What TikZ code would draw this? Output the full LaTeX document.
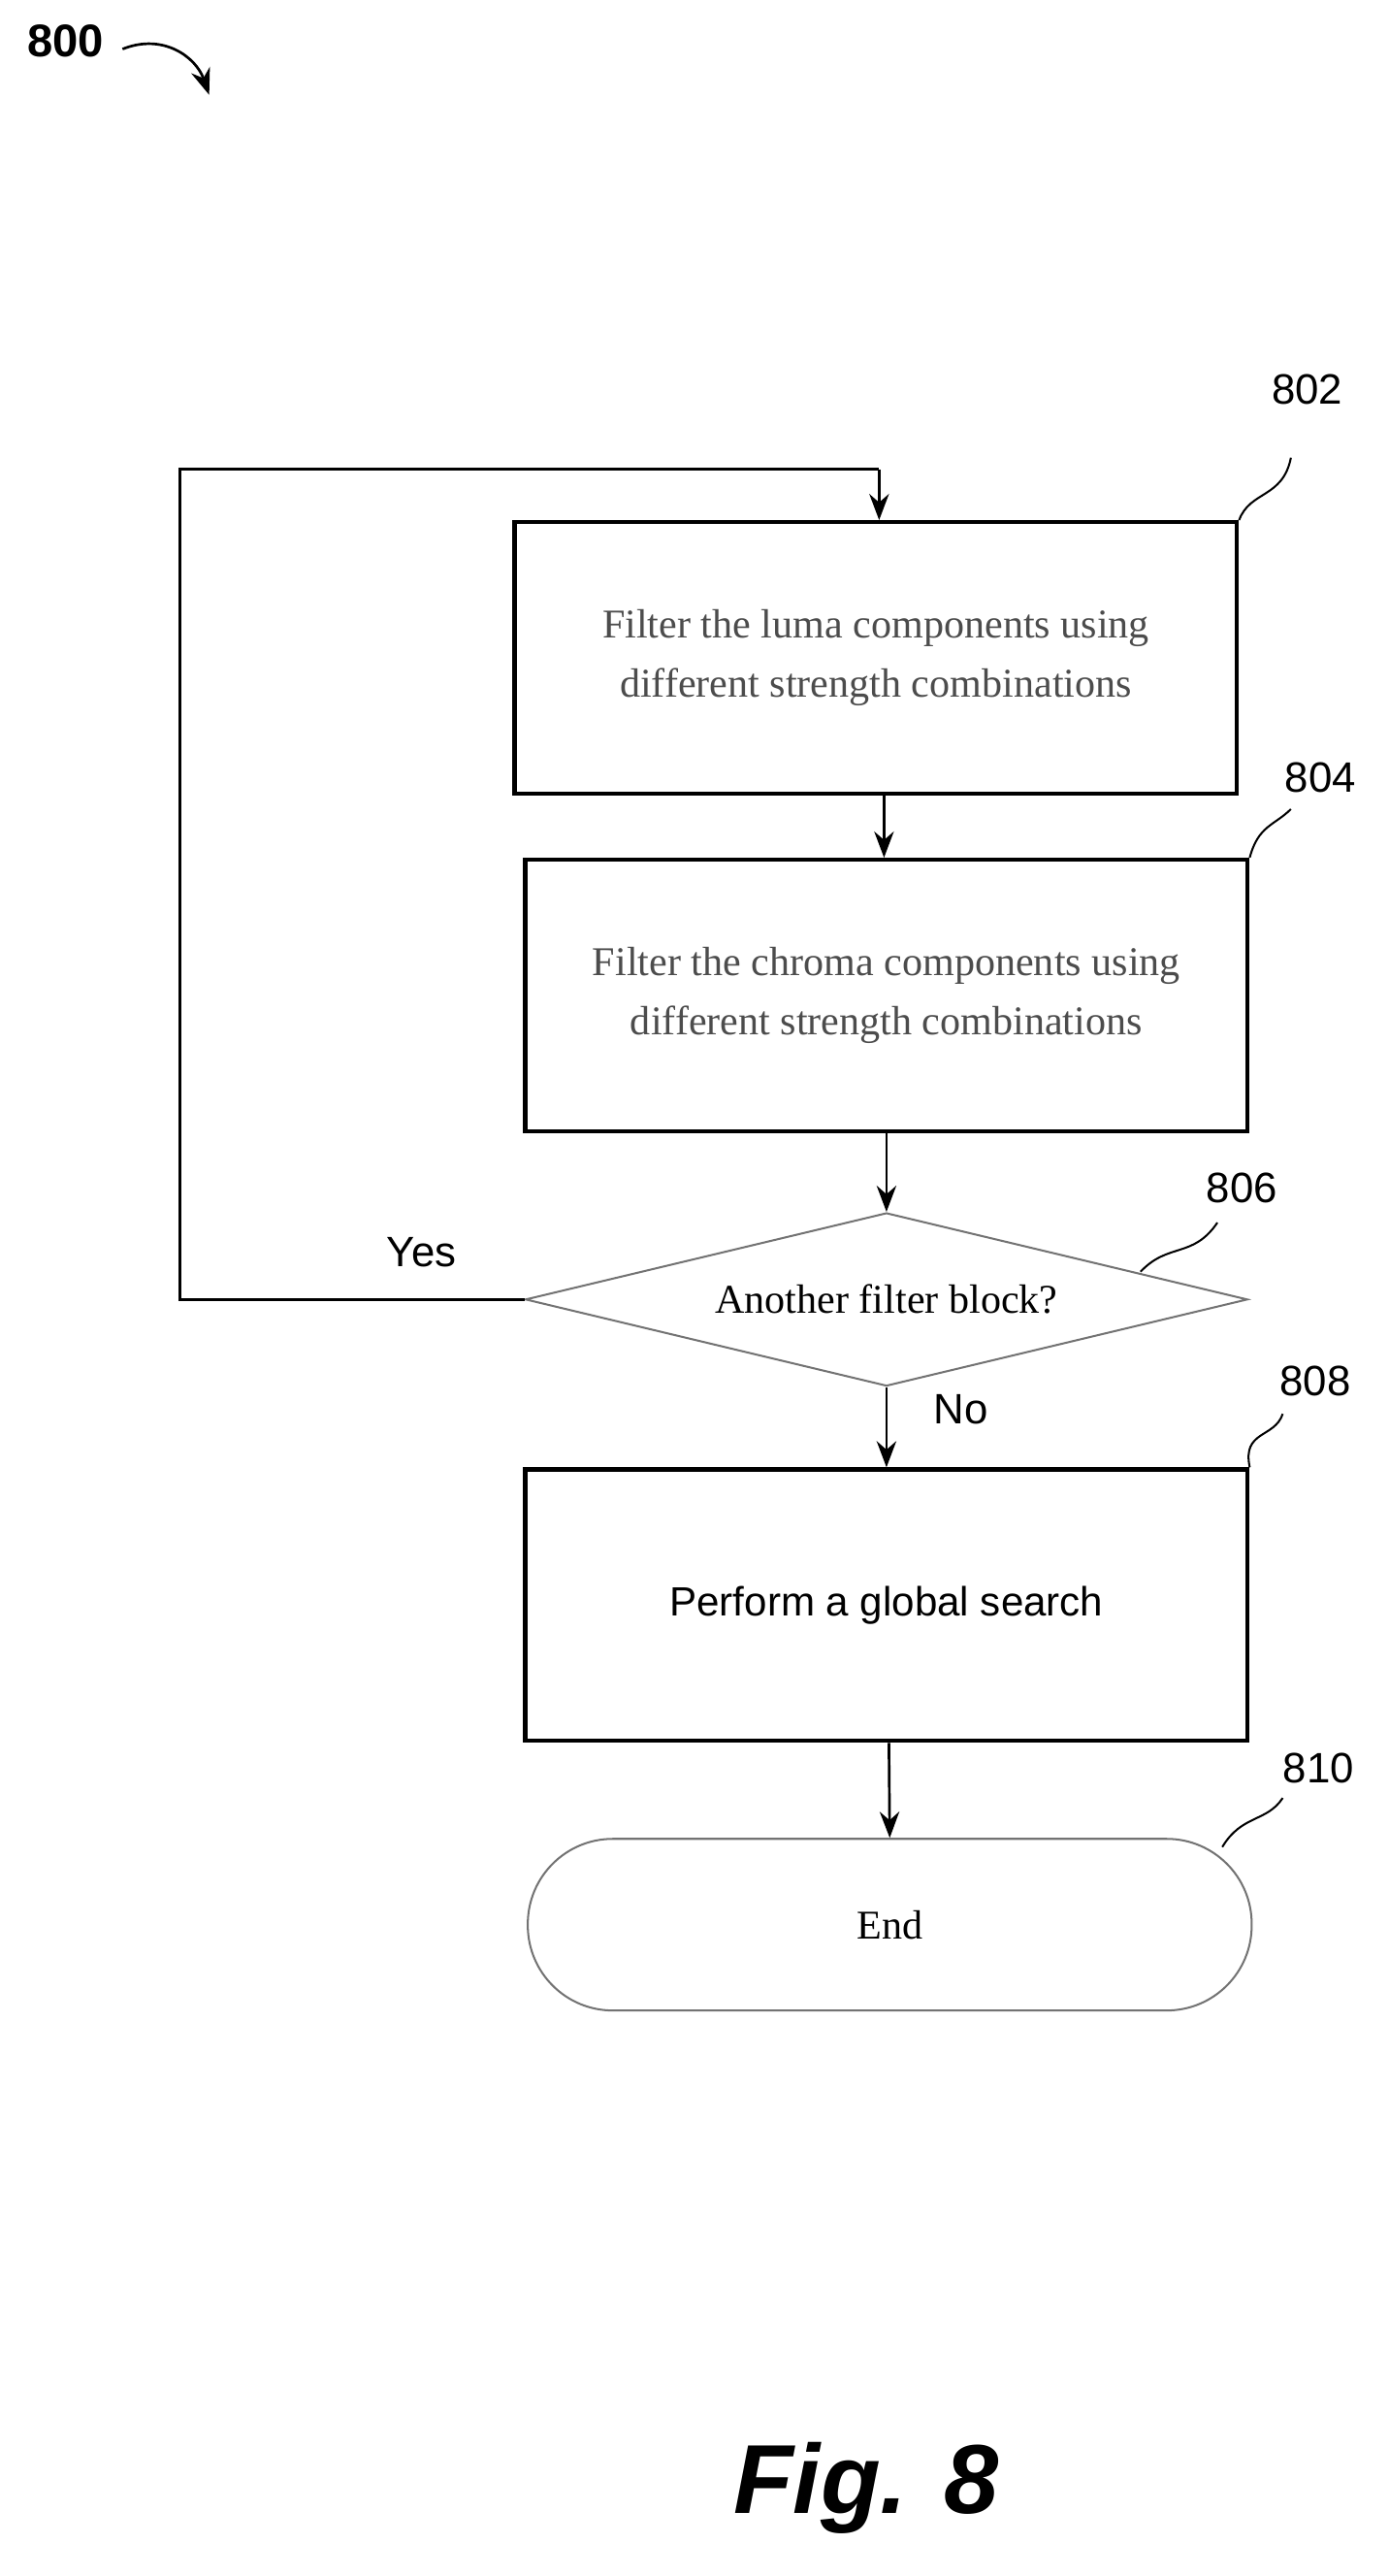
\documentclass[tikz,border=0pt]{standalone}
\usepackage{fontspec}
\setmainfont{Liberation Serif}
\setsansfont{Liberation Sans}
\usetikzlibrary{shapes.geometric,arrows.meta}
\begin{document}
\begin{tikzpicture}[x=0.5pt,y=-0.5pt,
  box/.style={draw,line width=1.3pt,minimum width=221pt,minimum height=83pt,align=center,font=\fontsize{12.5}{18}\selectfont,text=black!70},
  lab/.style={font=\sffamily\fontsize{13}{15}\selectfont},
  arr/.style={-{Stealth[length=8pt,width=6pt]},line width=0.8pt},
  sq/.style={line width=0.6pt}]
\useasboundingbox (0,0) rectangle (850,1576);
\node[lab,font=\sffamily\bfseries\fontsize{14}{16}\selectfont] (n800) at (40,25) {800};
\coordinate (a1) at (75,30); \coordinate (a2) at (128,58);
\draw[arr] (a1) .. controls (100,20) and (120,35) .. (a2);
\node[box] (b802) at (536,402.5) {Filter the luma components using\\different strength combinations};
\node[box] (b804) at (542.5,609) {Filter the chroma components using\\different strength combinations};
\node[draw=black!55,line width=0.6pt,diamond,aspect=4.16,minimum width=221pt,minimum height=53pt,inner sep=0pt,font=\fontsize{12.5}{15}\selectfont] (d806) at (542.5,795) {Another filter block?};
\node[box,text=black,font=\sffamily\fontsize{12.5}{15}\selectfont] (b808) at (542.5,982) {Perform a global search};
\node[draw=black!55,line width=0.6pt,rounded corners=26pt,minimum width=221.5pt,minimum height=52.5pt,font=\fontsize{12.5}{15}\selectfont] (e810) at (544.5,1177.5) {End};
\node[lab] (l802) at (800,238) {802};
\node[lab] (l804) at (808,476) {804};
\node[lab] (l806) at (760,727) {806};
\node[lab] (l808) at (805,845) {808};
\node[lab] (l810) at (807,1082) {810};
\draw[sq] (b802.north east) .. controls (765,300) and (785,305) .. (790,280);
\draw[sq] (b804.north east) .. controls (770,505) and (780,505) .. (790,495);
\draw[sq] (698,778) .. controls (715,760) and (730,770) .. (745,748);
\draw[sq] (b808.north east) .. controls (760,875) and (780,880) .. (785,865);
\draw[sq] (748,1130) .. controls (760,1110) and (775,1115) .. (785,1100);
\coordinate (c1) at (110,795); \coordinate (c2) at (110,287); \coordinate (c3) at (538,287);
\draw[line width=0.8pt] (d806.west) -- (c1) -- (c2) -- (c3);
\draw[arr] (c3) -- (b802.north -| c3);
\draw[arr] (b802.south -| 541,0) -- (b804.north -| 541,0);
\draw[arr] (b804.south) -- (d806.north);
\draw[arr] (d806.south) -- (b808.north);
\draw[arr] (b808.south -| 544,0) -- (e810.north);
\node[lab] (yes) at (258,766) {Yes};
\node[lab] (no) at (588,862) {No};
\node[font=\sffamily\bfseries\itshape\fontsize{30}{34}\selectfont] (fig) at (530,1522) {Fig. 8};
\end{tikzpicture}
\end{document}
